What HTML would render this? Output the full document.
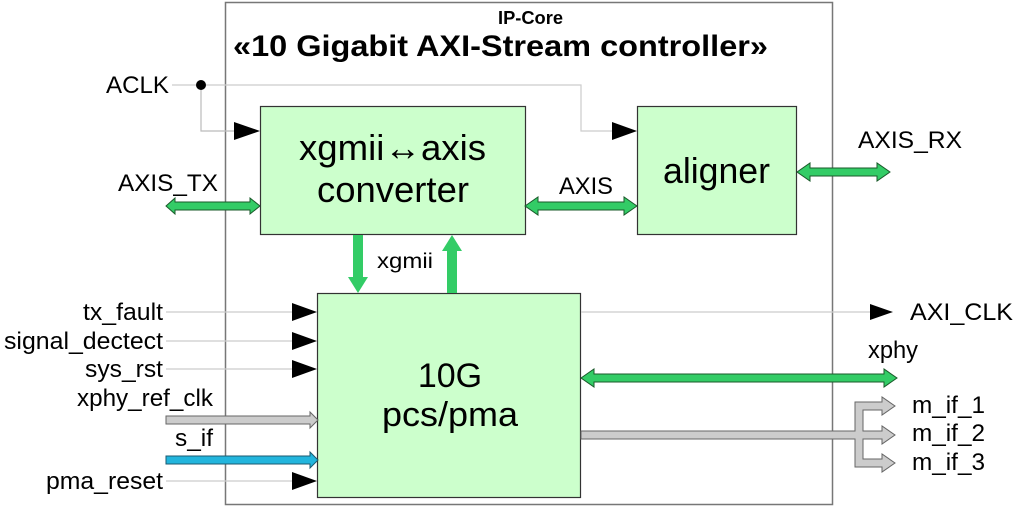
<!DOCTYPE html>
<html><head><meta charset="utf-8"><style>
html,body{margin:0;padding:0;background:#fff;}
svg{display:block;font-family:"Liberation Sans",Arial,sans-serif;}
</style></head><body>
<svg width="1024" height="507" viewBox="0 0 1024 507" xmlns="http://www.w3.org/2000/svg">
<rect x="225.5" y="2.5" width="607" height="502" fill="#fff" stroke="#777" stroke-width="1.5"/>
<text x="498" y="24" font-size="18" font-weight="bold" textLength="65" lengthAdjust="spacingAndGlyphs">IP-Core</text>
<text x="233" y="56" font-size="30" font-weight="bold" textLength="535" lengthAdjust="spacingAndGlyphs">«10 Gigabit AXI-Stream controller»</text>

<text x="106" y="93" font-size="24" textLength="63" lengthAdjust="spacingAndGlyphs">ACLK</text>
<polyline points="172,85 581,85 581,131 612,131" fill="none" stroke="#ccc" stroke-width="1.2"/>
<polyline points="201,85 201,131 234,131" fill="none" stroke="#bbb" stroke-width="1.2"/>
<path d="M612,122 L637,131 L612,140 Z" fill="#000"/>
<path d="M234,122 L260,131 L234,140 Z" fill="#000"/>
<circle cx="201" cy="85" r="5" fill="#000"/>

<rect x="260.5" y="106.5" width="265" height="128" fill="#ccffcc" stroke="#333" stroke-width="1.2"/>
<text x="299" y="160" font-size="36" textLength="187" lengthAdjust="spacingAndGlyphs">xgmii↔axis</text>
<text x="317" y="202" font-size="36" textLength="152" lengthAdjust="spacingAndGlyphs">converter</text>
<rect x="637.5" y="106.5" width="159" height="128" fill="#ccffcc" stroke="#333" stroke-width="1.2"/>
<text x="663" y="183" font-size="36" textLength="107" lengthAdjust="spacingAndGlyphs">aligner</text>
<rect x="317.5" y="293.5" width="263" height="204" fill="#ccffcc" stroke="#333" stroke-width="1.2"/>
<text x="450" y="387" font-size="34" text-anchor="middle">10G</text>
<text x="382" y="426" font-size="34" textLength="136" lengthAdjust="spacingAndGlyphs">pcs/pma</text>

<g fill="#33cc66" stroke="#1a5a2a" stroke-width="1">
<path d="M166,206 L175,198 L175,202 L250,202 L250,198 L260,206 L250,214 L250,210 L175,210 L175,214 Z"/>
<path d="M525,206 L538,197 L538,202 L624,202 L624,197 L637,206 L624,215 L624,210 L538,210 L538,215 Z"/>
<path d="M797,172 L810,163 L810,168 L877,168 L877,163 L890,172 L877,181 L877,176 L810,176 L810,181 Z"/>
<path d="M581,378 L594,369 L594,374 L884,374 L884,369 L897,378 L884,387 L884,382 L594,382 L594,387 Z"/>
</g>
<g fill="#33cc66">
<path d="M353,235 L363,235 L363,277 L368,277 L358,293 L348,277 L353,277 Z"/>
<path d="M447,293 L457,293 L457,251 L462,251 L452,235 L442,251 L447,251 Z"/>
</g>
<text x="118" y="191" font-size="24" textLength="100" lengthAdjust="spacingAndGlyphs">AXIS_TX</text>
<text x="559" y="194" font-size="24" textLength="54" lengthAdjust="spacingAndGlyphs">AXIS</text>
<text x="858" y="148" font-size="24" textLength="104" lengthAdjust="spacingAndGlyphs">AXIS_RX</text>
<text x="377" y="268" font-size="21" textLength="56" lengthAdjust="spacingAndGlyphs">xgmii</text>

<g font-size="24">
<text x="83" y="320" textLength="80" lengthAdjust="spacingAndGlyphs">tx_fault</text>
<text x="4" y="349" textLength="159" lengthAdjust="spacingAndGlyphs">signal_dectect</text>
<text x="85" y="377" textLength="78" lengthAdjust="spacingAndGlyphs">sys_rst</text>
<text x="77" y="406" textLength="136" lengthAdjust="spacingAndGlyphs">xphy_ref_clk</text>
<text x="175" y="446" textLength="38" lengthAdjust="spacingAndGlyphs">s_if</text>
<text x="46" y="489" textLength="117" lengthAdjust="spacingAndGlyphs">pma_reset</text>
</g>
<g stroke="#ccc" stroke-width="1.2">
<line x1="166" y1="312" x2="292" y2="312"/>
<line x1="166" y1="341" x2="292" y2="341"/>
<line x1="166" y1="369" x2="292" y2="369"/>
<line x1="166" y1="481" x2="292" y2="481"/>
<line x1="581" y1="312" x2="870" y2="312"/>
</g>
<g fill="#000">
<path d="M292,303 L317,312 L292,321 Z"/>
<path d="M292,332 L317,341 L292,350 Z"/>
<path d="M292,360 L317,369 L292,378 Z"/>
<path d="M292,472 L317,481 L292,490 Z"/>
<path d="M870,304 L893,312 L870,320 Z"/>
</g>
<path d="M166,416 L310,416 L310,412 L318,420 L310,428 L310,424 L166,424 Z" fill="#ccc" stroke="#666" stroke-width="1"/>
<path d="M166,456 L310,456 L310,452 L318,460 L310,468 L310,464 L166,464 Z" fill="#22b5dd" stroke="#1a5a70" stroke-width="1"/>

<text x="910" y="320" font-size="24" textLength="103" lengthAdjust="spacingAndGlyphs">AXI_CLK</text>
<text x="868" y="358" font-size="24" textLength="50" lengthAdjust="spacingAndGlyphs">xphy</text>
<path d="M581,431 L855,431 L855,402 L882,402 L882,397 L895,406 L882,415 L882,410 L863,410 L863,431 L882,431 L882,426 L895,435 L882,444 L882,439 L863,439 L863,459 L882,459 L882,454 L895,463 L882,472 L882,467 L855,467 L855,439 L581,439 Z" fill="#ccc" stroke="#666" stroke-width="1"/>
<g font-size="24">
<text x="912" y="413" textLength="73" lengthAdjust="spacingAndGlyphs">m_if_1</text>
<text x="912" y="441" textLength="73" lengthAdjust="spacingAndGlyphs">m_if_2</text>
<text x="912" y="470" textLength="73" lengthAdjust="spacingAndGlyphs">m_if_3</text>
</g>
</svg>
</body></html>
